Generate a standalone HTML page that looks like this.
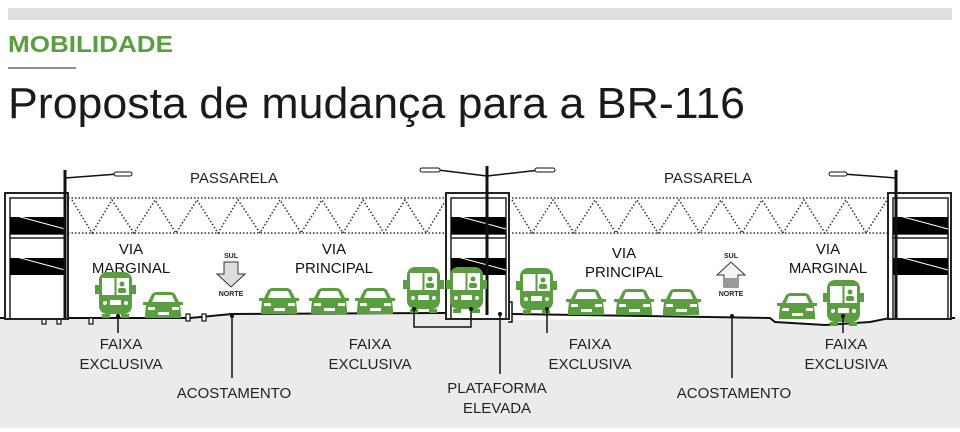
<!DOCTYPE html>
<html><head><meta charset="utf-8"><style>
html,body{margin:0;padding:0;background:#fff;}
svg{display:block;font-family:"Liberation Sans",sans-serif;}
</style></head><body>
<svg width="960" height="432" viewBox="0 0 960 432" xmlns="http://www.w3.org/2000/svg">
<defs>
<g id="bus">
 <rect x="2" y="0" width="33" height="42" rx="8" fill="#5a9e3f"/>
 <rect x="-2" y="13" width="4" height="9" fill="#5a9e3f"/>
 <rect x="35" y="13" width="4" height="9" fill="#5a9e3f"/>
 <rect x="5" y="6" width="12.5" height="17" fill="#fff"/>
 <rect x="19.5" y="6" width="12.5" height="17" fill="#fff"/>
 <circle cx="25" cy="12" r="2.5" fill="#5a9e3f"/>
 <rect x="21" y="16" width="8" height="5" rx="2" fill="#5a9e3f"/>
 <rect x="13" y="28" width="11" height="5" fill="#fff"/>
 <circle cx="8" cy="31" r="2" fill="#fff"/><circle cx="29" cy="31" r="2" fill="#fff"/>
 <rect x="5" y="42" width="8" height="4" fill="#5a9e3f"/><rect x="24" y="42" width="8" height="4" fill="#5a9e3f"/>
</g>
<g id="car">
 <path d="M5 10 L9 2 Q11 0 14 0 L27 0 Q30 0 32 2 L36 10 L40 10 L40 13 L37 13 L38 22 L38 26 L2 26 L2 22 L3 13 L0 13 L0 10 Z" fill="#5a9e3f"/>
 <path d="M9 10 L12 3 L29 3 L32 10 Z" fill="#fff"/>
 <rect x="5" y="15" width="7" height="3" fill="#fff"/><rect x="29" y="15" width="7" height="3" fill="#fff"/>
 <rect x="15" y="20" width="11" height="3" fill="#fff"/>
</g>
<g id="bld">
 <rect x="0" y="0" width="63" height="126" fill="#fff" stroke="#222" stroke-width="2"/>
 <rect x="5" y="5" width="55" height="121" fill="none" stroke="#222" stroke-width="1.5"/>
 <rect x="5" y="41" width="55" height="4" fill="#fff" stroke="#222" stroke-width="1.5"/>
 <rect x="5" y="24" width="55" height="17" fill="#000"/>
 <rect x="5" y="65" width="55" height="17" fill="#000"/>
 <line x1="8" y1="22" x2="60" y2="36" stroke="#fff" stroke-width="1"/>
 <line x1="8" y1="63" x2="60" y2="77" stroke="#fff" stroke-width="1"/>
</g>
</defs>
<rect x="8" y="8" width="944" height="12" fill="#e0e0e0"/>
<text x="8" y="52" font-size="23" font-weight="bold" fill="#5a9e3f" textLength="165" lengthAdjust="spacingAndGlyphs">MOBILIDADE</text>
<line x1="8" y1="68" x2="76" y2="68" stroke="#222" stroke-width="1"/>
<text x="8" y="118" font-size="44" fill="#1a1a1a" textLength="737" lengthAdjust="spacingAndGlyphs">Proposta de mudança para a BR-116</text>

<!-- ground -->
<path d="M0 318 L190 318 L232 314 L445 313 L512 313 L512 320 L770 318 L775 322 L825 325 L870 322 L890 318 L960 318 L960 428 L0 428 Z" fill="#ebebeb"/>
<path d="M0 318 L190 318 L232 314 L445 313" fill="none" stroke="#111" stroke-width="2"/>
<path d="M512 314 L770 318 L775 322 L825 325 L870 322 L890 318 L955 318" fill="none" stroke="#111" stroke-width="2"/>
<path d="M490 315 L490 302 L512 302 L512 322 L508 322" fill="#fff" stroke="#111" stroke-width="1.5"/>
<g fill="#fff" stroke="#111" stroke-width="1.2">
<rect x="42" y="318" width="4" height="6"/><rect x="57" y="318" width="4" height="6"/><rect x="89" y="318" width="4" height="6"/>
<rect x="186" y="314" width="4" height="7"/><rect x="202" y="314" width="4" height="7"/>
</g>

<!-- truss -->
<g stroke="#333" stroke-width="1.5" stroke-dasharray="1.5 2" fill="none">
<line x1="68" y1="198" x2="446" y2="198"/><line x1="68" y1="233" x2="446" y2="233"/>
<line x1="512" y1="198" x2="887" y2="198"/><line x1="512" y1="233" x2="887" y2="233"/>
<polyline points="72,200 92,233 112,200 134,233 155,200 176,233 197,200 218,233 238,200 260,233 280,200 301,233 322,200 343,233 363,200 384,233 405,200 426,233 446,200"/>
<polyline points="512,200 532,233 553,200 574,233 595,200 616,233 637,200 658,233 679,200 700,233 721,200 742,233 762,200 783,233 804,200 825,233 846,200 866,233 887,200"/>
</g>
<text x="234" y="183" font-size="15" fill="#222" text-anchor="middle">PASSARELA</text>
<text x="708" y="183" font-size="15" fill="#222" text-anchor="middle">PASSARELA</text>

<use href="#bld" x="5" y="193"/>
<use href="#bld" x="446" y="193"/>
<use href="#bld" x="888" y="193"/>

<!-- poles -->
<g stroke="#111" fill="none">
<line x1="65" y1="170" x2="65" y2="318" stroke-width="3"/>
<path d="M65 178 L118 174" stroke-width="1.5"/>
<rect x="114" y="172" width="18" height="4" rx="2" fill="#fff" stroke-width="1"/>
<line x1="487" y1="166" x2="487" y2="315" stroke-width="3"/>
<path d="M487 176 L438 170 M487 176 L540 170" stroke-width="1.5"/>
<rect x="420" y="168" width="20" height="4" rx="2" fill="#fff" stroke-width="1"/>
<rect x="535" y="168" width="20" height="4" rx="2" fill="#fff" stroke-width="1"/>
<line x1="896" y1="170" x2="896" y2="318" stroke-width="3"/>
<path d="M896 178 L843 174" stroke-width="1.5"/>
<rect x="829" y="172" width="18" height="4" rx="2" fill="#fff" stroke-width="1"/>
</g>

<!-- labels -->
<g font-size="15" fill="#111" text-anchor="middle">
<text x="131" y="254">VIA</text><text x="131" y="273">MARGINAL</text>
<text x="334" y="254">VIA</text><text x="334" y="273">PRINCIPAL</text>
<text x="624" y="258">VIA</text><text x="624" y="277">PRINCIPAL</text>
<text x="828" y="254">VIA</text><text x="828" y="273">MARGINAL</text>
</g>

<!-- arrows -->
<g font-size="7" font-weight="bold" fill="#222" text-anchor="middle">
<text x="231" y="258">SUL</text><text x="231" y="296">NORTE</text>
<text x="731" y="258">SUL</text><text x="731" y="296">NORTE</text>
</g>
<path d="M224 262 L238 262 L238 274 L245 274 L231 287 L217 274 L224 274 Z" fill="#ddd" stroke="#333" stroke-width="1"/>
<path d="M724 287 L738 287 L738 275 L745 275 L731 262 L717 275 L724 275 Z" fill="#f5f5f0" stroke="#333" stroke-width="1"/>
<rect x="724" y="278" width="14" height="9" fill="#999"/>

<!-- vehicles -->
<use href="#bus" x="97" y="272"/>
<use href="#car" x="143" y="292"/>
<use href="#car" x="259" y="288"/>
<use href="#car" x="309" y="288"/>
<use href="#car" x="355" y="288"/>
<use href="#bus" x="405" y="267"/>
<use href="#bus" x="448" y="267"/>
<use href="#bus" x="518" y="268"/>
<use href="#car" x="566" y="289"/>
<use href="#car" x="614" y="289"/>
<use href="#car" x="661" y="289"/>
<use href="#car" x="777" y="293"/>
<use href="#bus" x="825" y="280"/>

<!-- callouts -->
<g stroke="#111" stroke-width="1.5" fill="none">
<line x1="118" y1="316" x2="118" y2="333"/>
<line x1="232" y1="316" x2="232" y2="378"/>
<path d="M414 309 L414 327 L471 327 L471 309"/>
<line x1="500" y1="314" x2="500" y2="374"/>
<line x1="547" y1="309" x2="547" y2="333"/>
<line x1="732" y1="316" x2="732" y2="378"/>
<line x1="843" y1="316" x2="843" y2="333"/>
</g>
<g fill="#111"><circle cx="118" cy="316" r="2"/><circle cx="232" cy="316" r="2"/><circle cx="414" cy="309" r="2"/><circle cx="471" cy="309" r="2"/><circle cx="500" cy="314" r="2"/><circle cx="547" cy="309" r="2"/><circle cx="732" cy="316" r="2"/><circle cx="843" cy="316" r="2"/></g>
<g font-size="15" fill="#222" text-anchor="middle">
<text x="121" y="349">FAIXA</text><text x="121" y="369">EXCLUSIVA</text>
<text x="370" y="349">FAIXA</text><text x="370" y="369">EXCLUSIVA</text>
<text x="590" y="349">FAIXA</text><text x="590" y="369">EXCLUSIVA</text>
<text x="846" y="349">FAIXA</text><text x="846" y="369">EXCLUSIVA</text>
<text x="234" y="398">ACOSTAMENTO</text>
<text x="734" y="398">ACOSTAMENTO</text>
<text x="497" y="393">PLATAFORMA</text><text x="497" y="413">ELEVADA</text>
</g>
</svg>
</body></html>
